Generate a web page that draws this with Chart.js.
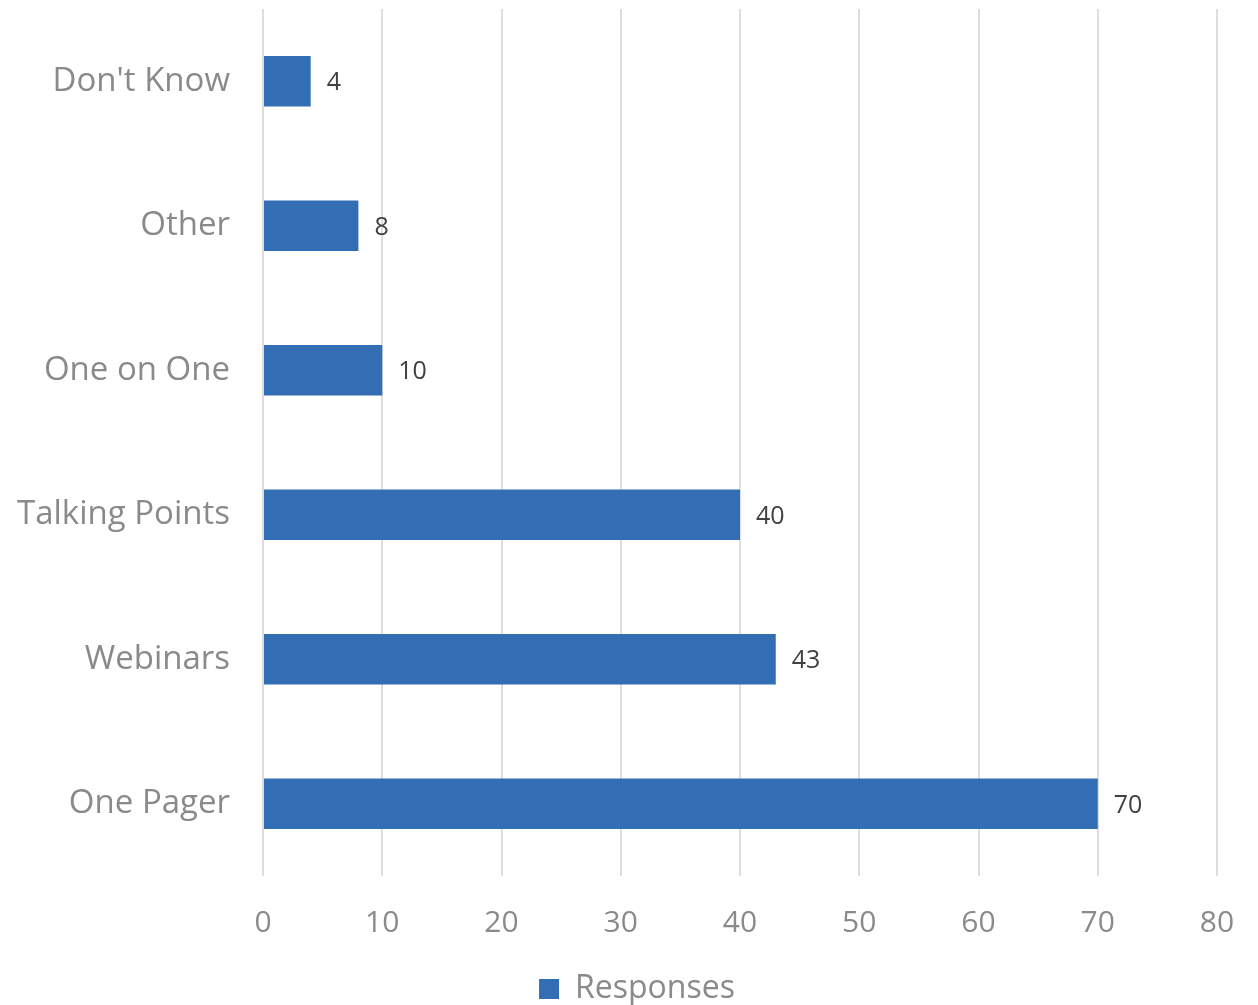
<!DOCTYPE html>
<html>
<head>
<meta charset="utf-8">
<script src="https://cdn.jsdelivr.net/npm/chart.js@4/dist/chart.umd.min.js"></script>
<style>
html,body{margin:0;padding:0;background:#fff;}
#wrap{width:1258px;height:1005px;position:relative;}
</style>
</head>
<body>
<div id="wrap"><canvas id="c" width="1258" height="1005"></canvas></div>
<script>
const categories = ["Don't Know", "Other", "One on One", "Talking Points", "Webinars", "One Pager"];
const responses = [4, 8, 10, 40, 43, 70];
const seriesName = "Responses";
const xMin = 0, xMax = 80, xStep = 10;

const FONT = "'Open Sans', 'Noto Sans', sans-serif";

const dataLabels = {
  id: 'dataLabels',
  afterDatasetsDraw(chart) {
    const ctx = chart.ctx;
    const meta = chart.getDatasetMeta(0);
    ctx.save();
    ctx.font = "25px " + FONT;
    ctx.fillStyle = '#404040';
    ctx.textAlign = 'left';
    ctx.textBaseline = 'middle';
    meta.data.forEach((bar, i) => {
      ctx.fillText(String(chart.data.datasets[0].data[i]), bar.x + 16, bar.y + 2);
    });
    ctx.restore();
  }
};

new Chart(document.getElementById('c'), {
  type: 'bar',
  data: {
    labels: categories,
    datasets: [{
      label: seriesName,
      data: responses,
      backgroundColor: '#336EB5',
      borderWidth: 0,
      barPercentage: 0.35,
      categoryPercentage: 1.0
    }]
  },
  options: {
    indexAxis: 'y',
    responsive: false,
    animation: false,
    layout: { padding: { left: 16, right: 0, top: 9, bottom: -10 } },
    scales: {
      x: {
        min: xMin, max: xMax,
        ticks: { stepSize: xStep, color: '#8a8a8a', font: { family: FONT, size: 30 }, padding: 29 },
        grid: { color: '#dedede', lineWidth: 2, drawTicks: false },
        border: { display: false },
        afterFit(scale) { scale.height = 96; scale.paddingLeft = 0; scale.paddingRight = 41; }
      },
      y: {
        ticks: { color: '#8a8a8a', font: { family: FONT, size: 33 }, padding: 33 },
        grid: { display: false, drawTicks: false },
        border: { display: false },
        afterFit(scale) { scale.width = 247; scale.paddingTop = 0; scale.paddingBottom = 0; }
      }
    },
    plugins: {
      legend: {
        position: 'bottom',
        labels: {
          color: '#8a8a8a',
          font: { family: FONT, size: 32 },
          boxWidth: 20, boxHeight: 20, padding: 1
        }
      },
      tooltip: { enabled: false }
    }
  },
  plugins: [dataLabels]
});
</script>
</body>
</html>
